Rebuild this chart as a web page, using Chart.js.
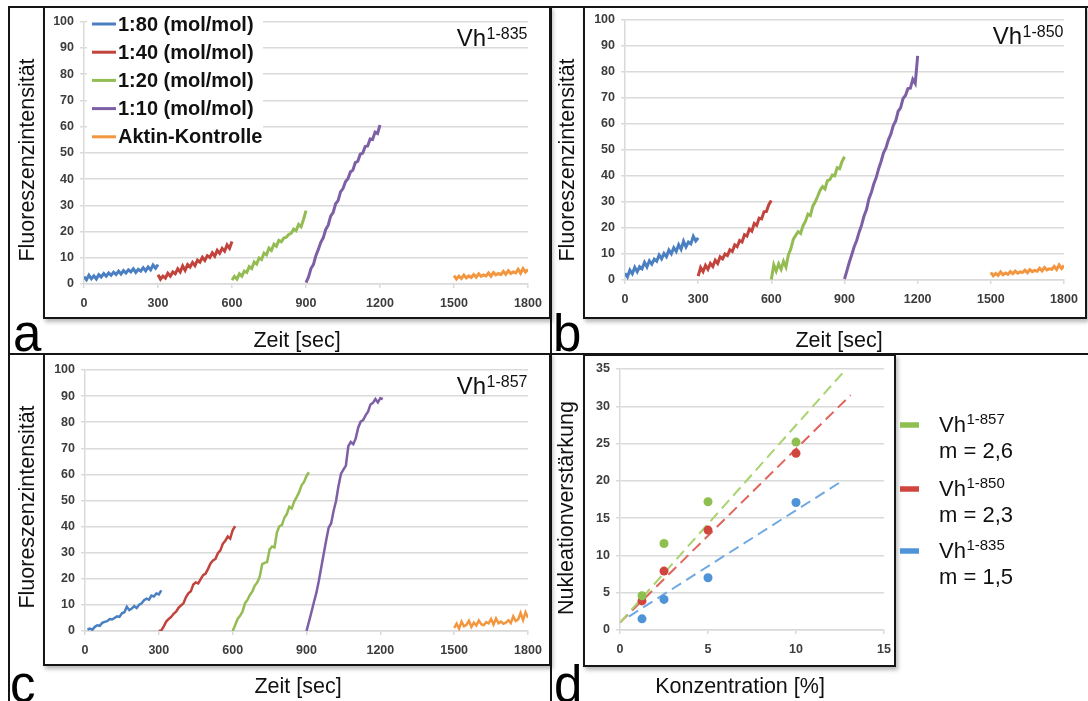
<!DOCTYPE html>
<html>
<head>
<meta charset="utf-8">
<title>Nukleationsassay Vh</title>
<script src="https://cdn.jsdelivr.net/npm/chart.js@4.4.1/dist/chart.umd.min.js"></script>
<style>
  html, body { margin: 0; padding: 0; background: #fff; }
  body { width: 1088px; height: 701px; position: relative; overflow: hidden;
         font-family: "Liberation Sans", Arial, Helvetica, sans-serif; }
  .line { position: absolute; background: #151515; }
  .box { position: absolute; box-sizing: border-box; border: 2px solid #151515;
         box-shadow: 2px 3px 4px rgba(0,0,0,0.28); background: #fff; }
  .cv { position: absolute; }
  .tag { position: absolute; font-size: 51px; line-height: 51px; color: #000; }
</style>
</head>
<body>

<div class="line" style="left:8px;top:6px;width:2px;height:695px"></div>
<div class="line" style="left:8px;top:6px;width:1080px;height:2px"></div>
<div class="line" style="left:550px;top:6px;width:2px;height:695px"></div>
<div class="line" style="left:8px;top:353px;width:1080px;height:2px"></div>

<div class="box" style="left:43px;top:6px;width:508px;height:313px"></div>
<div class="box" style="left:583px;top:6px;width:504px;height:313px"></div>
<div class="box" style="left:43px;top:353px;width:508px;height:313px"></div>
<div class="box" style="left:583px;top:354px;width:313px;height:313px"></div>

<canvas id="chartA" class="cv" width="550" height="353" style="left:0;top:0"></canvas>
<canvas id="chartB" class="cv" width="536" height="353" style="left:552px;top:0"></canvas>
<canvas id="chartC" class="cv" width="550" height="346" style="left:0;top:355px"></canvas>
<canvas id="chartD" class="cv" width="536" height="346" style="left:552px;top:355px"></canvas>

<div class="tag" style="left:13px;top:308px">a</div>
<div class="tag" style="left:553px;top:308px">b</div>
<div class="tag" style="left:10px;top:659px">c</div>
<div class="tag" style="left:554px;top:659px">d</div>

<script>
// ── Data ─────────────────────────────────────────────────────────────────────

// sampling offsets within one measurement (sec)
const SAMPLE_SEC = [0, 10, 20, 30, 40, 50, 60, 70, 80, 90, 100, 110, 120, 130, 140, 150, 160,
                    170, 180, 190, 200, 210, 220, 230, 240, 250, 260, 270, 280, 290, 300, 310, 320];
// start time of each measurement on the shared time axis (sec)
const SEGMENT_START = [0, 300, 600, 900, 1500];
const SERIES_LABELS = ['1:80 (mol/mol)', '1:40 (mol/mol)', '1:20 (mol/mol)', '1:10 (mol/mol)', 'Aktin-Kontrolle'];

const TIME_TICKS = [0, 300, 600, 900, 1200, 1500, 1800];
const INTENSITY_TICKS = [0, 10, 20, 30, 40, 50, 60, 70, 80, 90, 100];

// a) Vh1-835
const A_1TO80 = [2.8, 1.6, 3.4, 2.0, 3.1, 1.9, 3.6, 2.7, 4.0, 3.0, 4.2, 3.3, 4.5, 3.6, 4.9, 3.8,
                 5.1, 4.2, 5.4, 4.6, 5.8, 4.4, 5.6, 4.9, 6.2, 5.0, 6.5, 5.4, 7.2, 6.0, 7.4];
const A_1TO40 = [3.5, 1.8, 3.0, 2.2, 4.1, 3.0, 4.6, 3.9, 5.8, 4.6, 6.9, 5.2, 7.4, 6.5, 8.2, 7.0,
                 9.1, 8.3, 10.2, 9.0, 10.8, 10.1, 11.9, 10.6, 12.8, 11.7, 13.6, 12.5, 14.9, 13.6, 16.2];
const A_1TO20 = [1.5, 2.9, 1.9, 3.9, 3.0, 4.9, 4.4, 6.6, 5.9, 8.4, 7.6, 9.9, 9.3, 11.8, 11.1, 13.7,
                 12.8, 15.2, 14.4, 16.6, 16.1, 17.5, 17.8, 18.9, 19.3, 20.9, 20.3, 22.7, 21.8, 24.6, 28.0];
const A_1TO10 = [0.5, 2.6, 5.9, 7.4, 10.8, 13.2, 15.9, 17.6, 20.8, 22.4, 25.9, 27.2, 30.6, 31.8, 35.1, 36.4,
                 39.0, 40.1, 42.7, 43.4, 46.3, 46.8, 49.5, 49.9, 52.4, 52.6, 55.3, 55.1, 57.9, 57.4, 60.6];
const A_CTRL  = [3.2, 1.9, 3.0, 2.1, 3.4, 2.3, 3.1, 2.5, 3.6, 2.6, 3.9, 2.9, 3.5, 3.1, 4.2, 3.0,
                 4.4, 3.5, 4.0, 3.6, 4.8, 3.7, 5.1, 4.0, 4.6, 4.2, 5.6, 4.1, 5.9, 4.6, 5.5];

// b) Vh1-850
const B_1TO80 = [2.6, 1.2, 3.8, 2.4, 4.9, 3.2, 5.1, 4.3, 6.8, 5.0, 7.4, 6.1, 8.0, 7.2, 9.6, 8.1,
                 10.2, 9.0, 11.5, 10.1, 12.4, 11.0, 13.6, 11.8, 14.9, 12.7, 14.6, 13.9, 16.8, 15.0, 16.2];
const B_1TO40 = [1.5, 4.8, 3.2, 5.6, 4.1, 6.4, 5.2, 7.6, 6.4, 8.9, 8.1, 10.0, 9.4, 11.6, 11.0, 13.5,
                 12.8, 15.2, 14.6, 17.4, 16.9, 19.6, 18.8, 21.7, 21.0, 23.8, 23.5, 26.2, 26.4, 29.1, 30.6];
const B_1TO20 = [0.2, 5.8, 3.4, 6.2, 4.1, 7.2, 5.0, 9.6, 12.0, 15.6, 17.2, 18.6, 17.9, 20.9, 22.6, 25.3,
                 24.8, 28.4, 30.1, 32.2, 34.5, 35.9, 35.0, 38.2, 38.6, 40.4, 40.1, 43.2, 42.8, 45.6, 47.4];
const B_1TO10 = [0.4, 3.6, 6.9, 9.8, 12.9, 15.2, 18.4, 21.1, 24.6, 27.0, 31.2, 33.6, 36.9, 39.4, 42.8, 45.6,
                 48.9, 50.8, 53.9, 56.1, 59.4, 61.2, 64.9, 66.2, 69.8, 71.0, 73.6, 73.8, 77.2, 75.6, 86.2];
const B_CTRL  = [2.9, 1.6, 2.5, 1.8, 3.1, 2.0, 2.7, 2.2, 3.2, 2.4, 3.4, 2.6, 3.1, 2.9, 3.8, 2.8,
                 4.0, 3.2, 3.7, 3.4, 4.5, 3.5, 4.8, 3.9, 4.3, 4.1, 5.2, 4.0, 5.8, 4.4, 5.6];

// c) Vh1-857
const C_1TO80 = [null, 0.6, 0.9, 0.5, 1.6, 2.2, 2.0, 3.1, 3.5, 3.8, 4.6, 4.4, 5.0, 5.6, 5.4, 6.8,
                 7.2, 9.3, 8.0, 8.6, 9.5, 8.8, 10.1, 10.6, 11.8, 12.4, 12.0, 13.6, 13.2, 14.4, 14.0, 15.6];
const C_1TO40 = [0.0, 0.2, 1.8, 3.6, 4.6, 5.4, 6.6, 7.4, 8.9, 9.8, 10.6, 12.9, 14.4, 15.2, 17.8, 18.6,
                 18.2, 19.9, 21.4, 22.0, 23.8, 25.9, 27.0, 27.6, 29.8, 30.9, 33.4, 34.6, 36.2, 35.4, 38.6, 40.2];
const C_1TO20 = [0.0, 2.2, 4.6, 5.8, 7.4, 10.6, 11.9, 13.8, 15.2, 17.4, 18.6, 20.8, 25.6, 26.1, 26.4, 31.2,
                 32.4, 32.0, 37.8, 40.2, 40.6, 43.4, 44.8, 47.6, 46.9, 49.6, 51.3, 53.2, 55.8, 57.1, 59.4, 60.8];
const C_1TO10 = [0.0, 3.6, 7.2, 11.0, 14.6, 19.2, 24.4, 29.6, 34.8, 39.6, 41.2, 46.0, 49.8, 55.6, 60.2, 61.8,
                 63.4, 70.8, 72.4, 71.6, 73.8, 77.9, 80.2, 80.8, 82.6, 84.0, 86.8, 87.4, 88.9, 87.6, 89.2, 88.9];
const C_CTRL  = [1.2, 2.8, 0.9, 3.6, 1.8, 2.4, 3.9, 1.6, 3.2, 2.1, 4.0, 2.6, 2.2, 3.4, 2.9, 4.6,
                 2.5, 4.8, 3.0, 3.6, 2.8, 3.2, 4.1, 3.0, 5.6, 3.8, 4.4, 6.9, 4.2, 7.2, 5.1];

// d) nucleation enhancement vs. concentration
const CONC_PCT = [1.25, 2.5, 5, 10];
const GAIN_857 = [4.6, 11.6, 17.2, 25.2];
const GAIN_850 = [3.9, 7.9, 13.4, 23.7];
const GAIN_835 = [1.5, 4.1, 7.0, 17.1];
const TREND_857_X = [0, 12.85], TREND_857_Y = [1.0, 35.0];
const TREND_850_X = [0, 13.1],  TREND_850_Y = [1.0, 31.5];
const TREND_835_X = [0.5, 12.7], TREND_835_Y = [1.8, 20.1];
const D_CONSTRUCTS = ['1-857', '1-850', '1-835'];
const D_SLOPES = ['m = 2,6', 'm = 2,3', 'm = 1,5'];
const CONC_TICKS = [0, 5, 10, 15];
const GAIN_TICKS = [0, 5, 10, 15, 20, 25, 30, 35];

// ── Style ────────────────────────────────────────────────────────────────────

const SANS = '"Liberation Sans", Arial, Helvetica, sans-serif';
const SERIES_COLORS = ['#4a7fc1', '#c2433c', '#93bc52', '#7d5fa6', '#f2973f'];
const GRID = '#dadada';
const TICK_COLOR = '#3c3c3c';
const TICK_FONT = { family: SANS, size: 12.5, weight: 'bold' };
const D_POINT_COLORS = ['#8fc04f', '#d0463e', '#4f93d8'];
const D_TREND_COLORS = ['#a9d36f', '#e2635c', '#6fa9e4'];

// ── Plugins ──────────────────────────────────────────────────────────────────

function drawVh(ctx, sup, rightX, baseY, mainSize, supSize, rise, alignLeft) {
    ctx.font = supSize + 'px ' + SANS;
    const supW = ctx.measureText(sup).width;
    ctx.font = mainSize + 'px ' + SANS;
    const mainW = ctx.measureText('Vh').width;
    const x0 = alignLeft ? rightX : rightX - supW - mainW;
    ctx.textAlign = 'left';
    ctx.fillText('Vh', x0, baseY);
    ctx.font = supSize + 'px ' + SANS;
    ctx.fillText(sup, x0 + mainW + 0.5, baseY - rise);
}

const panelText = {
    id: 'panelText',
    afterDraw(chart, args, o) {
        const { ctx, chartArea: ca } = chart;
        ctx.save();
        ctx.fillStyle = '#111';
        ctx.textBaseline = 'alphabetic';
        ctx.textAlign = 'center';
        ctx.font = '21.5px ' + SANS;
        ctx.fillText(o.xTitle, o.xTitlePos[0], o.xTitlePos[1]);
        ctx.save();
        ctx.translate(o.yTitlePos[0], o.yTitlePos[1]);
        ctx.rotate(-Math.PI / 2);
        ctx.fillText(o.yTitle, 0, 0);
        ctx.restore();
        if (o.construct) drawVh(ctx, o.construct, ca.right - 1, ca.top + 24, 24, 16, 7, false);
        ctx.restore();
    }
};

// legend drawn inside the plot box (panel a) or beside it (panel d)
const boxLegend = {
    id: 'boxLegend',
    afterDatasetsDraw(chart, args, o) {
        if (!o.display) return;
        const ctx = chart.ctx;
        ctx.save();
        if (o.kind === 'series') {
            ctx.fillStyle = '#fff';
            ctx.fillRect(o.box[0], o.box[1], o.box[2], o.box[3]);
            ctx.font = 'bold 20px ' + SANS;
            ctx.textBaseline = 'middle';
            ctx.textAlign = 'left';
            chart.data.datasets.forEach((ds, i) => {
                const y = o.rowY + i * o.rowGap;
                ctx.strokeStyle = ds.borderColor;
                ctx.lineWidth = 3;
                ctx.beginPath();
                ctx.moveTo(o.swatchX, y);
                ctx.lineTo(o.swatchX + o.swatchW, y);
                ctx.stroke();
                ctx.fillStyle = '#111';
                ctx.fillText(ds.label, o.textX, y + 1);
            });
        } else {
            ctx.textBaseline = 'alphabetic';
            D_CONSTRUCTS.forEach((c, i) => {
                const y = o.rows[i];
                ctx.strokeStyle = D_POINT_COLORS[i];
                ctx.lineWidth = 5.5;
                ctx.beginPath();
                ctx.moveTo(o.swatchX, y);
                ctx.lineTo(o.swatchX + o.swatchW, y);
                ctx.stroke();
                ctx.fillStyle = '#111';
                drawVh(ctx, c, o.textX, y + 7, 22, 15, 8, true);
                ctx.font = '22px ' + SANS;
                ctx.fillText(D_SLOPES[i], o.textX, y + 33);
            });
        }
        ctx.restore();
    }
};

// ── Builders ─────────────────────────────────────────────────────────────────

function lineDatasets(seriesList, width) {
    return seriesList.map((vals, s) => ({
        label: SERIES_LABELS[s],
        data: vals.map((v, i) => ({ x: SEGMENT_START[s] + SAMPLE_SEC[i], y: v })),
        borderColor: SERIES_COLORS[s],
        backgroundColor: SERIES_COLORS[s],
        borderWidth: width,
        pointRadius: 0,
        tension: 0
    }));
}

function xScale(ticksList, height) {
    return {
        type: 'linear',
        min: ticksList[0],
        max: ticksList[ticksList.length - 1],
        afterBuildTicks: s => { s.ticks = ticksList.map(v => ({ value: v })); },
        ticks: { autoSkip: false, maxRotation: 0, padding: 8, color: TICK_COLOR, font: TICK_FONT,
                 callback: v => String(v) },
        grid: { drawOnChartArea: false, drawTicks: true, tickLength: 4, color: GRID, lineWidth: 1.5 },
        border: { display: true, color: GRID, width: 1.5 },
        afterFit: s => { s.height = height; }
    };
}

function yScale(ticksList, width) {
    return {
        type: 'linear',
        min: ticksList[0],
        max: ticksList[ticksList.length - 1],
        afterBuildTicks: s => { s.ticks = ticksList.map(v => ({ value: v })); },
        ticks: { autoSkip: false, padding: 6, color: TICK_COLOR, font: TICK_FONT,
                 callback: v => String(v) },
        grid: { color: GRID, lineWidth: 1.5, drawTicks: true, tickLength: 4 },
        border: { display: true, color: GRID, width: 1.5 },
        afterFit: s => { s.width = width; }
    };
}

function timeChart(id, series, cfg) {
    return new Chart(document.getElementById(id), {
        type: 'line',
        data: { datasets: lineDatasets(series, cfg.lw) },
        options: {
            responsive: false,
            animation: false,
            events: [],
            layout: { padding: cfg.pad },
            plugins: {
                legend: { display: false },
                tooltip: { enabled: false },
                panelText: cfg.text,
                boxLegend: cfg.legend || { display: false }
            },
            scales: { x: xScale(TIME_TICKS, cfg.xh), y: yScale(INTENSITY_TICKS, cfg.yw) }
        },
        plugins: [panelText, boxLegend]
    });
}

// ── Charts ───────────────────────────────────────────────────────────────────

timeChart('chartA', [A_1TO80, A_1TO40, A_1TO20, A_1TO10, A_CTRL], {
    pad: { left: 0, right: 22, top: 21.7, bottom: 0 }, yw: 84, xh: 69, lw: 3,
    text: { xTitle: 'Zeit [sec]', xTitlePos: [297, 347], yTitle: 'Fluoreszenzintensität', yTitlePos: [34, 160], construct: '1-835' },
    legend: { display: true, kind: 'series', box: [87, 9, 176, 141], rowY: 24, rowGap: 28.2, swatchX: 92, swatchW: 24, textX: 118 }
});

timeChart('chartB', [B_1TO80, B_1TO40, B_1TO20, B_1TO10, B_CTRL], {
    pad: { left: 0, right: 24, top: 20, bottom: 0 }, yw: 73, xh: 73, lw: 3,
    text: { xTitle: 'Zeit [sec]', xTitlePos: [287, 347], yTitle: 'Fluoreszenzintensität', yTitlePos: [22, 160], construct: '1-850' }
});

timeChart('chartC', [C_1TO80, C_1TO40, C_1TO20, C_1TO10, C_CTRL], {
    pad: { left: 0, right: 22, top: 15, bottom: 0 }, yw: 85, xh: 70, lw: 2.5,
    text: { xTitle: 'Zeit [sec]', xTitlePos: [298, 338], yTitle: 'Fluoreszenzintensität', yTitlePos: [34, 152], construct: '1-857' }
});

const pts = (xs, ys) => xs.map((x, i) => ({ x: x, y: ys[i] }));

new Chart(document.getElementById('chartD'), {
    type: 'scatter',
    data: {
        datasets: [
            { label: 'Vh1-857', data: pts(CONC_PCT, GAIN_857), backgroundColor: D_POINT_COLORS[0], borderWidth: 0, pointRadius: 4.5 },
            { label: 'Vh1-850', data: pts(CONC_PCT, GAIN_850), backgroundColor: D_POINT_COLORS[1], borderWidth: 0, pointRadius: 4.5 },
            { label: 'Vh1-835', data: pts(CONC_PCT, GAIN_835), backgroundColor: D_POINT_COLORS[2], borderWidth: 0, pointRadius: 4.5 },
            { label: 'Trend 857', data: pts(TREND_857_X, TREND_857_Y), showLine: true, borderColor: D_TREND_COLORS[0], borderWidth: 2, borderDash: [11, 6], pointRadius: 0 },
            { label: 'Trend 850', data: pts(TREND_850_X, TREND_850_Y), showLine: true, borderColor: D_TREND_COLORS[1], borderWidth: 2, borderDash: [11, 6], pointRadius: 0 },
            { label: 'Trend 835', data: pts(TREND_835_X, TREND_835_Y), showLine: true, borderColor: D_TREND_COLORS[2], borderWidth: 2, borderDash: [11, 6], pointRadius: 0 }
        ]
    },
    options: {
        responsive: false,
        animation: false,
        events: [],
        layout: { padding: { left: 0, right: 204, top: 14, bottom: 0 } },
        plugins: {
            legend: { display: false },
            tooltip: { enabled: false },
            panelText: { xTitle: 'Konzentration [%]', xTitlePos: [188, 338], yTitle: 'Nukleationverstärkung', yTitlePos: [21, 153] },
            boxLegend: { display: true, kind: 'fits', rows: [70, 134, 196], swatchX: 348, swatchW: 19, textX: 387 }
        },
        scales: { x: xScale(CONC_TICKS, 71), y: yScale(GAIN_TICKS, 68) }
    },
    plugins: [panelText, boxLegend]
});
</script>
</body>
</html>
